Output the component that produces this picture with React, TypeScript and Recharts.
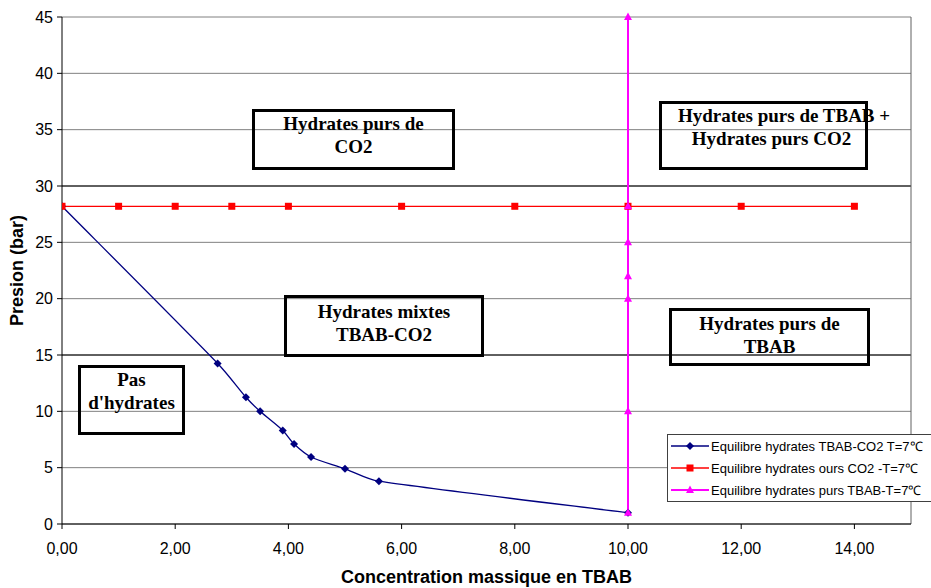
import React from 'react';
import { LineChart, Line, XAxis, YAxis, CartesianGrid, ReferenceLine } from 'recharts';

// Equilibre hydrates TBAB-CO2 (mixed hydrates)
const mixedConc = [0, 2.75, 3.25, 3.5, 3.9, 4.1, 4.4, 5.0, 5.6, 10];
const mixedPres = [28.2, 14.25, 11.25, 10.0, 8.3, 7.1, 5.95, 4.9, 3.8, 1.0];

// Equilibre hydrates purs CO2
const co2Conc = [0, 1, 2, 3, 4, 6, 8, 10, 12, 14];
const co2Pres = [28.2, 28.2, 28.2, 28.2, 28.2, 28.2, 28.2, 28.2, 28.2, 28.2];

// Equilibre hydrates purs TBAB
const tbabConc = [10, 10, 10, 10, 10, 10, 10];
const tbabPres = [1, 10, 20, 22, 25, 28.2, 45];

const xTicks = [0, 2, 4, 6, 8, 10, 12, 14];
const yTicks = [0, 5, 10, 15, 20, 25, 30, 35, 40, 45];
const darkGrid = [15, 30];

const toPoints = (xs: number[], ys: number[]) => xs.map((x, i) => ({ x, p: ys[i] }));

// limit a tangent so the control point never goes past a third of the segment
const clampTan = (tx: number, ty: number, seg: number) => {
  const len = Math.hypot(tx, ty);
  const max = seg / 3;
  if (len > max && len > 0) return [(tx * max) / len, (ty * max) / len];
  return [tx, ty];
};

// Excel-like smoothed line (Catmull-Rom through the points)
const excelSmooth = (context: any) => {
  let pts: number[][] = [];
  return {
    areaStart() {},
    areaEnd() {},
    lineStart() {
      pts = [];
    },
    point(x: number, y: number) {
      pts.push([+x, +y]);
    },
    lineEnd() {
      if (!pts.length) return;
      context.moveTo(pts[0][0], pts[0][1]);
      for (let i = 0; i < pts.length - 1; i++) {
        const p0 = pts[Math.max(i - 1, 0)];
        const p1 = pts[i];
        const p2 = pts[i + 1];
        const p3 = pts[Math.min(i + 2, pts.length - 1)];
        const seg = Math.hypot(p2[0] - p1[0], p2[1] - p1[1]);
        const t1 = clampTan((p2[0] - p0[0]) / 6, (p2[1] - p0[1]) / 6, seg);
        const t2 = clampTan((p3[0] - p1[0]) / 6, (p3[1] - p1[1]) / 6, seg);
        context.bezierCurveTo(p1[0] + t1[0], p1[1] + t1[1], p2[0] - t2[0], p2[1] - t2[1], p2[0], p2[1]);
      }
    },
  };
};

type Shape = 'diamond' | 'square' | 'triangle';

const series = [
  { name: 'Equilibre hydrates TBAB-CO2 T=7\u2103', color: '#000080', shape: 'diamond' as Shape, width: 1.3, smooth: true, data: toPoints(mixedConc, mixedPres) },
  { name: 'Equilibre hydrates ours CO2 -T=7\u2103', color: '#FF0000', shape: 'square' as Shape, width: 1.3, smooth: false, data: toPoints(co2Conc, co2Pres) },
  { name: 'Equilibre hydrates purs TBAB-T=7\u2103', color: '#FF00FF', shape: 'triangle' as Shape, width: 2, smooth: false, data: toPoints(tbabConc, tbabPres) },
];

const regions = [
  { lines: ['Hydrates purs de', 'CO2'], left: 252, top: 109, width: 203, height: 61, pad: 0, shift: 0 },
  { lines: ['Hydrates purs de TBAB +', 'Hydrates purs CO2'], left: 659, top: 101, width: 209, height: 69, pad: 0, shift: 16 },
  { lines: ['Hydrates mixtes', 'TBAB-CO2'], left: 284, top: 295, width: 200, height: 62, pad: 2, shift: 0 },
  { lines: ['Hydrates purs de', 'TBAB'], left: 669, top: 308, width: 201, height: 58, pad: 1, shift: 0 },
  { lines: ['Pas', "d'hydrates"], left: 78, top: 365, width: 107, height: 70, pad: 0, shift: 0 },
];

const marker = (shape: Shape, cx: number, cy: number, color: string, key?: string) => {
  if (shape === 'diamond') {
    return <path key={key} d={`M${cx},${cy - 4} L${cx + 4},${cy} L${cx},${cy + 4} L${cx - 4},${cy} Z`} fill={color} />;
  }
  if (shape === 'square') {
    return <rect key={key} x={cx - 3.5} y={cy - 3.5} width={7} height={7} fill={color} />;
  }
  return <path key={key} d={`M${cx},${cy - 4.5} L${cx + 4},${cy + 3} L${cx - 4},${cy + 3} Z`} fill={color} />;
};

const fmt = (v: number) => v.toFixed(2).replace('.', ',');

const App: React.FC = () => {
  return (
    <div
      style={{
        position: 'fixed',
        left: 0,
        top: 0,
        width: 931,
        height: 588,
        background: '#fff',
        overflow: 'hidden',
        fontFamily: 'Arial, "Liberation Sans", sans-serif',
      }}
    >
      <LineChart width={931} height={588} margin={{ top: 17, right: 20, bottom: 0, left: 0 }}>
        <CartesianGrid horizontal vertical={false} stroke="#808080" />
        {darkGrid.map((y) => (
          <ReferenceLine key={y} y={y} stroke="#000" />
        ))}
        <ReferenceLine x={15} stroke="#606060" />
        <XAxis
          dataKey="x"
          type="number"
          domain={[0, 15]}
          ticks={xTicks}
          tickFormatter={fmt}
          allowDataOverflow
          height={64}
          tickSize={5}
          tickMargin={14}
          stroke="#000"
          tick={{ fontSize: 16, fill: '#000' }}
        />
        <YAxis
          type="number"
          domain={[0, 45]}
          ticks={yTicks}
          width={62}
          tickSize={5}
          tickMargin={4}
          stroke="#000"
          tick={{ fontSize: 16, fill: '#000' }}
          label={{
            value: 'Presion (bar)',
            angle: -90,
            position: 'insideLeft',
            offset: 17,
            style: { fontSize: 18, fontWeight: 'bold', fill: '#000', textAnchor: 'middle' },
          }}
        />
        {series.map((s) => (
          <Line
            key={s.name}
            data={s.data}
            dataKey="p"
            name={s.name}
            type={s.smooth ? (excelSmooth as any) : 'linear'}
            stroke={s.color}
            strokeWidth={s.width}
            isAnimationActive={false}
            activeDot={false}
            dot={(props: any) => marker(s.shape, props.cx, props.cy, s.color, `${s.shape}-${props.index}`)}
          />
        ))}
      </LineChart>

      <div
        style={{
          position: 'absolute',
          left: 62,
          width: 849,
          top: 567,
          textAlign: 'center',
          fontSize: 18,
          fontWeight: 'bold',
          lineHeight: '20px',
          color: '#000',
          whiteSpace: 'nowrap',
        }}
      >
        Concentration massique en TBAB
      </div>

      {regions.map((r, i) => (
        <div
          key={i}
          style={{
            position: 'absolute',
            left: r.left,
            top: r.top,
            width: r.width,
            height: r.height,
            boxSizing: 'border-box',
            border: '3px solid #000',
            paddingTop: r.pad,
            paddingLeft: r.shift,
            textAlign: 'center',
            fontFamily: '"Liberation Serif", "Times New Roman", serif',
            fontWeight: 'bold',
            fontSize: 19,
            lineHeight: '23px',
            whiteSpace: 'nowrap',
            color: '#000',
          }}
        >
          {r.lines.map((l) => (
            <div key={l}>{l}</div>
          ))}
        </div>
      ))}

      <div
        style={{
          position: 'absolute',
          left: 667,
          top: 434,
          width: 290,
          border: '1px solid #404040',
          background: '#fff',
          fontSize: 13,
          color: '#000',
        }}
      >
        {series.map((s) => (
          <div key={s.name} style={{ height: 22, display: 'flex', alignItems: 'center', whiteSpace: 'nowrap' }}>
            <svg width={41} height={12} style={{ marginLeft: 2, flex: 'none' }}>
              <line x1={1} y1={6} x2={39} y2={6} stroke={s.color} strokeWidth={s.width} />
              {marker(s.shape, 20, 6, s.color)}
            </svg>
            <span>{s.name}</span>
          </div>
        ))}
      </div>
    </div>
  );
};

export default App;
